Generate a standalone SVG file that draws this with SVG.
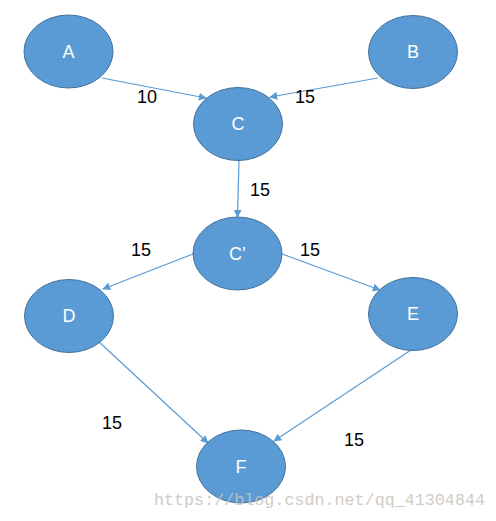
<svg xmlns="http://www.w3.org/2000/svg" width="496" height="521" viewBox="0 0 496 521">
<defs>
<style>
.node ellipse{fill:#5B9BD5;stroke:#41719C;stroke-width:1}
.node text{fill:#fff;font-family:"Liberation Sans",Arial,sans-serif;font-size:18px;text-anchor:middle}
.edge{stroke:#5B9BD5;stroke-width:1.2;fill:none;marker-end:url(#arr)}
.lbl{fill:#000;font-family:"Liberation Sans",Arial,sans-serif;font-size:18px;text-anchor:middle}
.wm{fill:#c8c4bc;font-family:"Liberation Mono","DejaVu Sans Mono",monospace;font-size:16.5px;opacity:0.85}
</style>
<marker id="arr" viewBox="0 0 10 10" refX="9" refY="5" markerWidth="8" markerHeight="8" orient="auto" markerUnits="userSpaceOnUse">
<path d="M0,0 L10,5 L0,10 z" fill="#5B9BD5"/>
</marker>
</defs>
<rect width="496" height="521" fill="#fff"/>
<g id="connectors">
<line class="edge" x1="102" y1="78" x2="206" y2="98"/>
<line class="edge" x1="378" y1="78" x2="270" y2="97"/>
<line class="edge" x1="239" y1="160" x2="237.5" y2="217"/>
<line class="edge" x1="193" y1="254" x2="103" y2="289"/>
<line class="edge" x1="282" y1="254" x2="380" y2="290"/>
<line class="edge" x1="98" y1="341" x2="208" y2="443"/>
<line class="edge" x1="411" y1="350" x2="274" y2="441"/>
</g>
<g id="labels">
<text class="lbl" x="147" y="103">10</text>
<text class="lbl" x="305" y="103">15</text>
<text class="lbl" x="260" y="196">15</text>
<text class="lbl" x="141" y="256">15</text>
<text class="lbl" x="310" y="256">15</text>
<text class="lbl" x="112" y="429">15</text>
<text class="lbl" x="354" y="446">15</text>
</g>
<g id="A" class="node"><ellipse cx="68.5" cy="51.5" rx="44.5" ry="36.5"/><text x="68.5" y="58">A</text></g>
<g id="B" class="node"><ellipse cx="413" cy="52" rx="44.5" ry="36.5"/><text x="413" y="58">B</text></g>
<g id="C" class="node"><ellipse cx="238" cy="124" rx="44.5" ry="36.5"/><text x="238" y="130">C</text></g>
<g id="Cp" class="node"><ellipse cx="237.5" cy="253.5" rx="44.5" ry="36.5"/><text x="237.5" y="260">C’</text></g>
<g id="D" class="node"><ellipse cx="69" cy="316" rx="44.5" ry="36.5"/><text x="69" y="322">D</text></g>
<g id="E" class="node"><ellipse cx="413" cy="314" rx="44.5" ry="36.5"/><text x="413" y="320">E</text></g>
<g id="F" class="node"><ellipse cx="241" cy="466.5" rx="44.5" ry="36.5"/><text x="241" y="473">F</text></g>
<text class="wm" x="154" y="505" textLength="331" lengthAdjust="spacingAndGlyphs">https://blog.csdn.net/qq_41304844</text>
</svg>
